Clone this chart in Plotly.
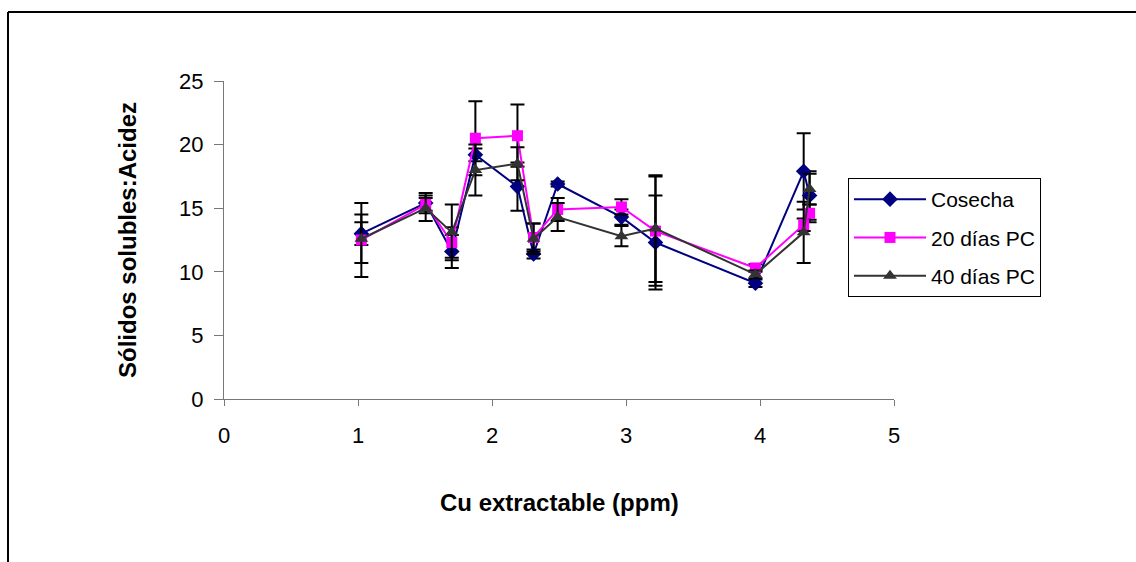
import plotly.graph_objects as go

# Extractable copper (ppm) at each sampling site
cu_ppm = [1.025, 1.505, 1.70, 1.876, 2.19, 2.31, 2.49, 2.966, 3.22, 3.966, 4.326, 4.37]

# Soluble solids : acidity ratio, with standard deviations
cosecha = [13.0, 15.4, 11.6, 19.2, 16.7, 11.4, 16.9, 14.3, 12.3, 9.1, 17.9, 16.0]
cosecha_err = [0.9, 0.8, 1.3, 0.5, 1.9, 0.35, 0.2, 0.6, 3.7, 0.3, 3.0, 1.9]

dias20 = [12.5, 15.3, 12.3, 20.5, 20.7, 12.7, 14.9, 15.1, 13.2, 10.3, 13.7, 14.6]
dias20_err = [2.9, 0.5, 1.2, 2.9, 2.45, 1.1, 0.9, 0.6, 4.3, 0.3, 0.5, 0.7]

dias40 = [12.6, 15.0, 13.1, 18.0, 18.5, 12.6, 14.3, 12.8, 13.4, 9.8, 13.1, 16.5]
dias40_err = [1.9, 1.0, 2.2, 2.0, 1.3, 1.2, 1.1, 0.8, 4.2, 0.3, 2.4, 1.2]

series = [
    ("Cosecha", cosecha, cosecha_err, "#000080", "diamond", 12),
    ("20 días PC", dias20, dias20_err, "#FF00FF", "square", 11),
    ("40 días PC", dias40, dias40_err, "#333333", "triangle-up", 12),
]

FONT = "Liberation Sans, Arial, sans-serif"

fig = go.Figure()
for i, (name, vals, errs, color, symbol, size) in enumerate(series):
    fig.add_trace(go.Scatter(
        x=cu_ppm, y=vals, name=name, mode="lines+markers",
        line=dict(color=color, width=2),
        marker=dict(symbol=symbol, size=size, color=color),
        error_y=dict(type="data", array=errs, visible=True,
                     color="black", thickness=2, width=7),
        legendgroup=f"g{i}",
    ))

W, H = 1136, 562
L, R, T, B = 224, 242, 81, 163
pw, ph = W - L - R, H - T - B


def px_x(p):
    return (p - L) / pw


def px_y(p):
    return (H - B - p) / ph


fig.update_layout(
    width=W, height=H,
    margin=dict(l=L, r=R, t=T, b=B, pad=0),
    paper_bgcolor="white", plot_bgcolor="white",
    font=dict(family=FONT, size=22, color="black"),
    showlegend=True,
    legend=dict(
        x=px_x(848), y=px_y(178), xanchor="left", yanchor="top",
        bordercolor="black", borderwidth=1, bgcolor="white",
        font=dict(family=FONT, size=21, color="black"),
        tracegroupgap=8, itemwidth=72,
    ),
    xaxis=dict(
        range=[0, 5], dtick=1, tick0=0, showgrid=False, zeroline=False,
        showline=True, linecolor="#777777", linewidth=1,
        ticks="outside", ticklen=6, tickcolor="#777777",
        ticklabelstandoff=11,
        tickfont=dict(family=FONT, size=22),
    ),
    yaxis=dict(
        range=[0, 25], dtick=5, tick0=0, showgrid=False, zeroline=False,
        showline=True, linecolor="#777777", linewidth=1,
        ticks="outside", ticklen=9, tickcolor="#777777",
        ticklabelstandoff=6,
        tickfont=dict(family=FONT, size=22),
    ),
    annotations=[
        dict(text="<b>Cu extractable (ppm)</b>", xref="paper", yref="paper",
             x=0.5, y=px_y(502), xanchor="center", yanchor="middle",
             showarrow=False, font=dict(family=FONT, size=24)),
        dict(text="<b>Sólidos solubles:Acidez</b>", xref="paper", yref="paper",
             x=px_x(127), y=0.5, xanchor="center", yanchor="middle",
             textangle=-90, showarrow=False, font=dict(family=FONT, size=24)),
    ],
    shapes=[
        dict(type="line", xref="paper", yref="paper",
             x0=px_x(8), y0=px_y(12), x1=px_x(W + 5), y1=px_y(12),
             line=dict(color="black", width=2)),
        dict(type="line", xref="paper", yref="paper",
             x0=px_x(8), y0=px_y(12), x1=px_x(8), y1=px_y(H + 5),
             line=dict(color="black", width=2)),
    ],
)

fig.write_html("out.html")
